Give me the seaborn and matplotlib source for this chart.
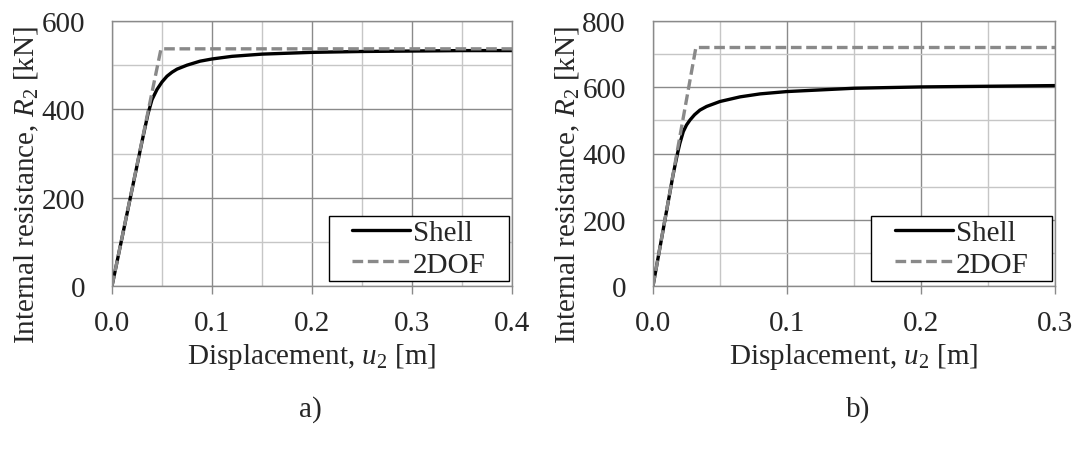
import matplotlib
matplotlib.use("Agg")
import matplotlib.pyplot as plt
from matplotlib.ticker import MultipleLocator
from matplotlib.patches import Rectangle
import seaborn as sns
import pandas as pd

# panel a) values
shell_a_x = [0.0, 0.01, 0.02, 0.03, 0.036, 0.040, 0.045, 0.050, 0.055, 0.060, 0.065, 0.075,
             0.088, 0.10, 0.12, 0.15, 0.20, 0.25, 0.30, 0.35, 0.40]
shell_a_y = [0, 109, 218, 327, 390, 422, 445, 462, 475, 484, 491, 500,
             509, 514, 520, 525, 529, 531, 532, 533, 533]
dof_a_x = [0.0, 0.049, 0.40]
dof_a_y = [0, 537, 537]

# panel b)
shell_b_x = [0.0, 0.005, 0.010, 0.015, 0.018, 0.020, 0.0226, 0.025, 0.0276, 0.031, 0.035,
             0.040, 0.050, 0.065, 0.080, 0.10, 0.15, 0.20, 0.25, 0.30]
shell_b_y = [0, 112, 224, 336, 395, 430, 466, 486, 501, 517, 531,
             542, 557, 571, 580, 587, 597, 601, 603, 605]
dof_b_x = [0.0, 0.032, 0.30]
dof_b_y = [0, 720, 720]

sns.set_style("white")
plt.rcParams["font.family"] = ["Liberation Serif", "DejaVu Serif"]
plt.rcParams["mathtext.fontset"] = "custom"
plt.rcParams["mathtext.rm"] = "Liberation Serif"
plt.rcParams["mathtext.it"] = "Liberation Serif:italic"

FS = 21
GRID_MAJ = "#8a8a8a"
GRID_MIN = "#c6c6c6"

fig = plt.figure(figsize=(10.75, 4.56), dpi=100)
ax_a = fig.add_axes([112 / 1075, 169 / 456, 400 / 1075, 265 / 456])
ax_b = fig.add_axes([653 / 1075, 169 / 456, 402 / 1075, 265 / 456])


def draw(ax, sx, sy, dx, dy, xmax, ymax, xstep, ystep):
    shell = pd.DataFrame({"x": sx, "y": sy})
    dof = pd.DataFrame({"x": dx, "y": dy})
    sns.lineplot(data=shell, x="x", y="y", ax=ax, color="black", lw=2.4,
                 label="Shell", sort=False)
    sns.lineplot(data=dof, x="x", y="y", ax=ax, color="#898989", lw=2.4,
                 dashes=(3.2, 1.4), label="2DOF", sort=False)
    ax.set_xlim(0, xmax)
    ax.set_ylim(0, ymax)
    ax.xaxis.set_major_locator(MultipleLocator(xstep))
    ax.xaxis.set_minor_locator(MultipleLocator(xstep / 2))
    ax.yaxis.set_major_locator(MultipleLocator(ystep))
    ax.yaxis.set_minor_locator(MultipleLocator(ystep / 2))
    ax.xaxis.set_major_formatter(lambda v, p: f"{v:.1f}")
    ax.yaxis.set_major_formatter(lambda v, p: f"{v:.0f}")
    ax.grid(which="major", color=GRID_MAJ, lw=1.0)
    ax.grid(which="minor", color=GRID_MIN, lw=1.0)
    ax.set_axisbelow(True)
    for s in ax.spines.values():
        s.set_color(GRID_MAJ)
        s.set_linewidth(1.0)
    ax.tick_params(axis="x", which="major", bottom=True, length=6, width=1,
                   color=GRID_MAJ, labelsize=FS, pad=11)
    ax.tick_params(axis="x", which="minor", bottom=False, length=0)
    ax.tick_params(axis="y", which="both", left=False, length=0, labelsize=FS, pad=19.5)
    ax.set_xlabel("Displacement, $u_2$ [m]", fontsize=FS, labelpad=4)
    ax.set_ylabel("Internal resistance, $R_2$ [kN]", fontsize=FS)
    ax.yaxis.set_label_coords(-0.177, 0.385)

    # legend box like the spreadsheet one: white, black edge, wide side padding
    box = (0.5425, 0.019, 0.45, 0.245)
    ax.add_patch(Rectangle(box[:2], box[2], box[3], transform=ax.transAxes,
                           facecolor="white", edgecolor="black", lw=1.0,
                           zorder=4.9, clip_on=False))
    leg = ax.legend(loc="center", bbox_to_anchor=box, fontsize=FS, frameon=False,
                    borderaxespad=0, borderpad=0, labelspacing=0.18,
                    handlelength=2.0, handletextpad=0.1)
    leg.set_zorder(5)


draw(ax_a, shell_a_x, shell_a_y, dof_a_x, dof_a_y, 0.4, 600, 0.1, 200)
draw(ax_b, shell_b_x, shell_b_y, dof_b_x, dof_b_y, 0.3, 800, 0.1, 200)

fig.text(310 / 1075, 1 - 410 / 456, "a)", fontsize=FS, ha="center", va="center")
fig.text(858 / 1075, 1 - 410 / 456, "b)", fontsize=FS, ha="center", va="center")

fig.savefig("out.png", dpi=100)
